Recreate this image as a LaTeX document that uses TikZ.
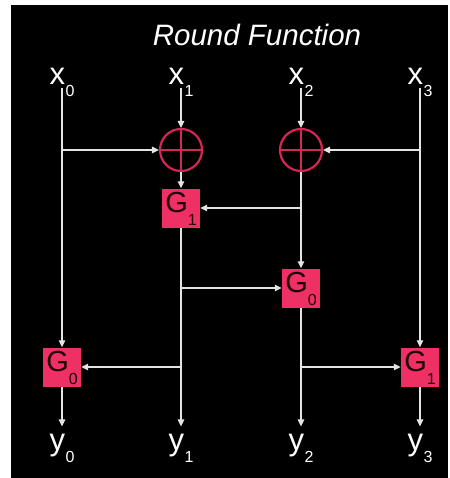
\documentclass[tikz,border=0pt]{standalone}
\usepackage{fontspec}
\setmainfont{Liberation Sans}
\usetikzlibrary{arrows.meta}
\definecolor{gpink}{RGB}{238,48,100}
\definecolor{xred}{RGB}{214,38,86}
\definecolor{wire}{RGB}{228,228,228}
\definecolor{gtext}{RGB}{30,0,8}
\newcommand\lsub[2]{#1\hspace{0.5pt}\raisebox{-12pt}{\fontsize{16}{16}\selectfont #2}}
\newcommand\gsub[1]{G\hspace{0pt}\raisebox{-13pt}{\fontsize{16}{16}\selectfont #1}}
\begin{document}
\begin{tikzpicture}[x=1pt,y=-1pt,
  wirestyle/.style={draw=wire, line width=1.3pt},
  arr/.style={wirestyle, -{Triangle[width=6.5pt,length=7pt]}},
  lbl/.style={text=white, inner xsep=0pt, inner ysep=7pt, anchor=base, font=\fontsize{31}{31}\selectfont},
  gbox/.style={fill=gpink, minimum width=38pt, minimum height=39pt, inner sep=0pt,
    text height=24pt, text depth=15pt, text=gtext, font=\fontsize{29}{29}\selectfont},
  xorc/.style={circle, draw=xred, line width=2.2pt, minimum size=42pt, inner sep=0pt}]
\useasboundingbox (0,0) rectangle (449,478);
\fill[white] (0,0) rectangle (449,478);
\fill[black] (11,5) rectangle (448,478);

\node[text=white, inner sep=0pt, anchor=base, font=\fontsize{29.5}{29.5}\selectfont\itshape] (title) at (257,46) {Round Function};

\node[lbl] (x0) at (62,85) {\lsub{x}{0}};
\node[lbl] (x1) at (181,85) {\lsub{x}{1}};
\node[lbl] (x2) at (301,85) {\lsub{x}{2}};
\node[lbl] (x3) at (420,85) {\lsub{x}{3}};

\node[xorc] (c1) at (181,150) {};
\node[xorc] (c2) at (301,150) {};
\draw[xred, line width=2.2pt] (c1.north) -- (c1.south) (c1.west) -- (c1.east);
\draw[xred, line width=2.2pt] (c2.north) -- (c2.south) (c2.west) -- (c2.east);

\node[gbox] (g1) at (181,208) {\gsub{1}};
\node[gbox] (g0m) at (301,288) {\gsub{0}};
\node[gbox] (g0l) at (62,367) {\gsub{0}};
\node[gbox] (g1r) at (420,367) {\gsub{1}};

\node[lbl] (y0) at (62,450) {\lsub{y}{0}};
\node[lbl] (y1) at (181,450) {\lsub{y}{1}};
\node[lbl] (y2) at (301,450) {\lsub{y}{2}};
\node[lbl] (y3) at (420,450) {\lsub{y}{3}};

% column 0
\draw[arr] (x0.base) ++(0,3) -- (g0l.north);
\draw[arr] (g0l.north |- c1.west) -- (c1.west);
\draw[arr] (g0l.south) -- (y0.north);
% column 1
\draw[arr] (x1.base) ++(0,3) -- (c1.north);
\draw[arr] (c1.south) -- (g1.north);
\draw[arr] (g1.south) -- (y1.north);
\draw[arr] (g1.south |- g0m.west) -- (g0m.west);
\draw[arr] (g1.south |- g0l.east) -- (g0l.east);
% column 2
\draw[arr] (x2.base) ++(0,3) -- (c2.north);
\draw[arr] (c2.south) -- (g0m.north);
\draw[arr] (c2.south |- g1.east) -- (g1.east);
\draw[arr] (g0m.south) -- (y2.north);
\draw[arr] (g0m.south |- g1r.west) -- (g1r.west);
% column 3
\draw[arr] (x3.base) ++(0,3) -- (g1r.north);
\draw[arr] (g1r.north |- c2.east) -- (c2.east);
\draw[arr] (g1r.south) -- (y3.north);
\end{tikzpicture}
\end{document}
